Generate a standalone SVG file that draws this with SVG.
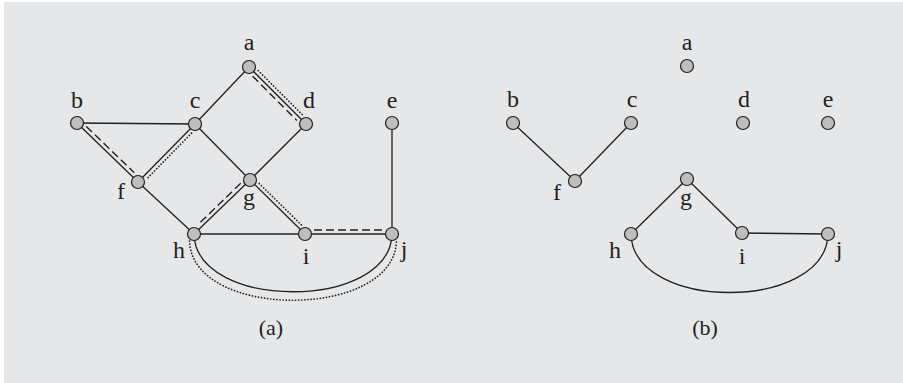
<svg xmlns="http://www.w3.org/2000/svg" width="903" height="383" viewBox="0 0 903 383">
<style>
.e{stroke:#231f20;stroke-width:1.3;fill:none}
.ds{stroke:#231f20;stroke-width:1.4;fill:none;stroke-dasharray:8 4}
.dt{stroke:#231f20;stroke-width:1.7;fill:none;stroke-dasharray:0.1 3;stroke-linecap:round}
.n{fill:#bcbec0;stroke:#231f20;stroke-width:1.2}
.l{font-family:"Liberation Serif","Times New Roman",serif;font-size:24px;fill:#231f20;text-anchor:middle}
.cap{font-family:"Liberation Serif","Times New Roman",serif;font-size:22px;fill:#231f20;text-anchor:middle}
</style>
<rect x="4" y="2" width="899" height="381" fill="#e6e7e8"/>
<g id="connectors">
<line class="e" x1="249" y1="67" x2="195" y2="124"/>
<line class="e" x1="249" y1="67" x2="306" y2="124"/>
<line class="e" x1="77" y1="123" x2="195" y2="124"/>
<line class="e" x1="77" y1="123" x2="138" y2="182"/>
<line class="e" x1="195" y1="124" x2="138" y2="182"/>
<line class="e" x1="195" y1="124" x2="250" y2="180"/>
<line class="e" x1="306" y1="124" x2="250" y2="180"/>
<line class="e" x1="138" y1="182" x2="194" y2="234"/>
<line class="e" x1="250" y1="180" x2="194" y2="234"/>
<line class="e" x1="250" y1="180" x2="305" y2="234"/>
<line class="e" x1="194" y1="234" x2="305" y2="234"/>
<line class="e" x1="305" y1="234" x2="392" y2="234"/>
<line class="e" x1="392" y1="123" x2="392" y2="234"/>
<path class="e" d="M194,234 C196,311 390,311 392,234"/>
<line class="dt" x1="258.2" y1="70.6" x2="302.4" y2="114.8"/>
<line class="ds" x1="252.6" y1="76.2" x2="296.8" y2="120.4"/>
<line class="ds" x1="86.3" y1="126.4" x2="134.3" y2="172.8"/>
<line class="dt" x1="191.5" y1="133.2" x2="147.2" y2="178.4"/>
<line class="ds" x1="240.7" y1="183.3" x2="197.7" y2="224.9"/>
<line class="dt" x1="259.2" y1="183.5" x2="301.4" y2="224.9"/>
<line class="ds" x1="314" y1="230" x2="385" y2="230"/>
<path class="dt" d="M189.5,241 C192,320 394,320 396.5,241"/>
<line class="e" x1="513" y1="123" x2="575" y2="181"/>
<line class="e" x1="631" y1="123" x2="575" y2="181"/>
<line class="e" x1="687" y1="179" x2="631" y2="234"/>
<line class="e" x1="687" y1="179" x2="742" y2="233"/>
<line class="e" x1="742" y1="233" x2="828" y2="234"/>
<path class="e" d="M631,234 C633,312 826,312 828,234"/>
</g>
<g id="a1"><circle class="n" cx="249" cy="67" r="6.5"/><text class="l" x="249" y="50">a</text></g>
<g id="b1"><circle class="n" cx="77" cy="123" r="6.5"/><text class="l" x="77" y="108">b</text></g>
<g id="c1"><circle class="n" cx="195" cy="124" r="6.5"/><text class="l" x="195" y="108">c</text></g>
<g id="d1"><circle class="n" cx="306" cy="124" r="6.5"/><text class="l" x="309" y="108">d</text></g>
<g id="e1"><circle class="n" cx="392" cy="123" r="6.5"/><text class="l" x="392" y="108">e</text></g>
<g id="f1"><circle class="n" cx="138" cy="182" r="6.5"/><text class="l" x="121" y="199">f</text></g>
<g id="g1"><circle class="n" cx="250" cy="180" r="6.5"/><text class="l" x="249" y="205">g</text></g>
<g id="h1"><circle class="n" cx="194" cy="234" r="6.5"/><text class="l" x="179" y="258">h</text></g>
<g id="i1"><circle class="n" cx="305" cy="234" r="6.5"/><text class="l" x="306" y="264">i</text></g>
<g id="j1"><circle class="n" cx="392" cy="234" r="6.5"/><text class="l" x="404" y="257">j</text></g>
<g id="a2"><circle class="n" cx="687" cy="66" r="6.5"/><text class="l" x="687" y="50">a</text></g>
<g id="b2"><circle class="n" cx="513" cy="123" r="6.5"/><text class="l" x="513" y="107">b</text></g>
<g id="c2"><circle class="n" cx="631" cy="123" r="6.5"/><text class="l" x="632" y="107">c</text></g>
<g id="d2"><circle class="n" cx="743" cy="123" r="6.5"/><text class="l" x="744" y="107">d</text></g>
<g id="e2"><circle class="n" cx="828" cy="123" r="6.5"/><text class="l" x="828" y="107">e</text></g>
<g id="f2"><circle class="n" cx="575" cy="181" r="6.5"/><text class="l" x="557" y="200">f</text></g>
<g id="g2"><circle class="n" cx="687" cy="179" r="6.5"/><text class="l" x="686" y="205">g</text></g>
<g id="h2"><circle class="n" cx="631" cy="234" r="6.5"/><text class="l" x="615" y="258">h</text></g>
<g id="i2"><circle class="n" cx="742" cy="233" r="6.5"/><text class="l" x="742" y="264">i</text></g>
<g id="j2"><circle class="n" cx="828" cy="234" r="6.5"/><text class="l" x="839" y="257">j</text></g>
<text class="cap" x="271" y="335">(a)</text>
<text class="cap" x="705" y="335">(b)</text>
</svg>
